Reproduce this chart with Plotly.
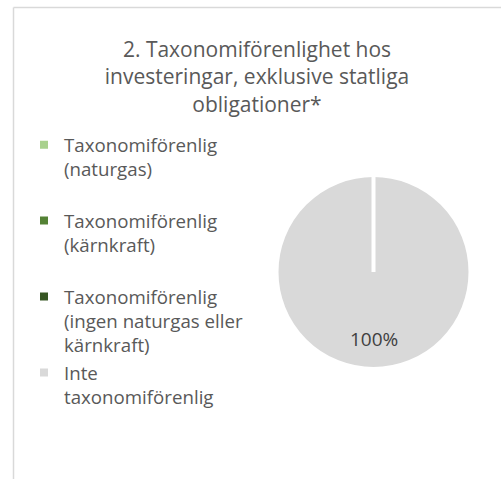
import math
import plotly.graph_objects as go

# Data
categories = [
    "Taxonomiförenlig<br>(naturgas)<br> ",
    "Taxonomiförenlig<br>(kärnkraft)<br> ",
    "Taxonomiförenlig<br>(ingen naturgas eller<br>kärnkraft)",
    "Inte<br>taxonomiförenlig",
]
values = [0, 0, 0, 100]
colors = ["#A9D18E", "#548235", "#375623", "#D9D9D9"]
title_text = "2. Taxonomiförenlighet hos<br>investeringar, exklusive statliga<br>obligationer*"

W, H = 501, 479
FONT = "'Open Sans', Lato, sans-serif"

# pie geometry (pixels)
cx, cy, R = 373.5, 272.0, 97.0
dom_x = [(cx - R) / W, (cx + R) / W]
dom_y = [1 - (cy + R) / H, 1 - (cy - R) / H]

fig = go.Figure()
fig.add_trace(go.Pie(
    labels=categories,
    values=values,
    sort=False,
    direction="clockwise",
    rotation=0,
    marker=dict(colors=colors, line=dict(color="white", width=4)),
    textinfo="none",
    hoverinfo="label+percent",
    domain=dict(x=dom_x, y=dom_y),
    showlegend=True,
))

# slice boundaries (white separators, incl. zero-width slices)
total = sum(values)
cum = 0.0
angles = set()
for v in values:
    angles.add(round(cum / total, 6) % 1.0)
    cum += v
for frac in sorted(angles):
    th = 2 * math.pi * frac
    fig.add_shape(type="line", xref="paper", yref="paper",
                  x0=cx / W, y0=1 - cy / H,
                  x1=(cx + R * math.sin(th)) / W,
                  y1=1 - (cy - R * math.cos(th)) / H,
                  line=dict(color="white", width=4), layer="above")

# data label of the non-zero slice, placed at its mid-angle
cum = 0.0
for v in values:
    if v > 0:
        mid = 2 * math.pi * (cum + v / 2) / total
        rr = 0.70 * (R - 2)
        fig.add_annotation(
            x=(cx + rr * math.sin(mid)) / W,
            y=1 - (cy - rr * math.cos(mid)) / H,
            xref="paper", yref="paper", xanchor="center", yanchor="middle",
            text=f"{v / total * 100:.0f}%", showarrow=False,
            font=dict(family=FONT, size=19, color="#404040"),
        )
    cum += v

# chart-area border (partially visible)
fig.add_shape(type="line", xref="paper", yref="paper",
              x0=13.5 / W, x1=13.5 / W, y0=-0.05, y1=1 - 7.5 / H,
              line=dict(color="#D9D9D9", width=1.5))
fig.add_shape(type="line", xref="paper", yref="paper",
              x0=13.5 / W, x1=1.05, y0=1 - 7.5 / H, y1=1 - 7.5 / H,
              line=dict(color="#D9D9D9", width=1.5))

fig.update_layout(
    width=W, height=H,
    margin=dict(l=0, r=0, t=0, b=0),
    paper_bgcolor="white",
    plot_bgcolor="white",
    title=dict(text=title_text, x=257 / W, xanchor="center",
               y=1 - 57 / H, yanchor="top", yref="container",
               font=dict(family=FONT, size=21, color="#595959")),
    legend=dict(x=24 / W, xanchor="left", y=1 - 126 / H, yanchor="top",
                valign="top", traceorder="normal",
                font=dict(family=FONT, size=18.7, color="#595959"),
                bgcolor="rgba(0,0,0,0)"),
    font=dict(family=FONT, color="#595959"),
)

fig.write_html("out.html", config={"displayModeBar": False},
               post_script="document.body.style.margin='0';")
